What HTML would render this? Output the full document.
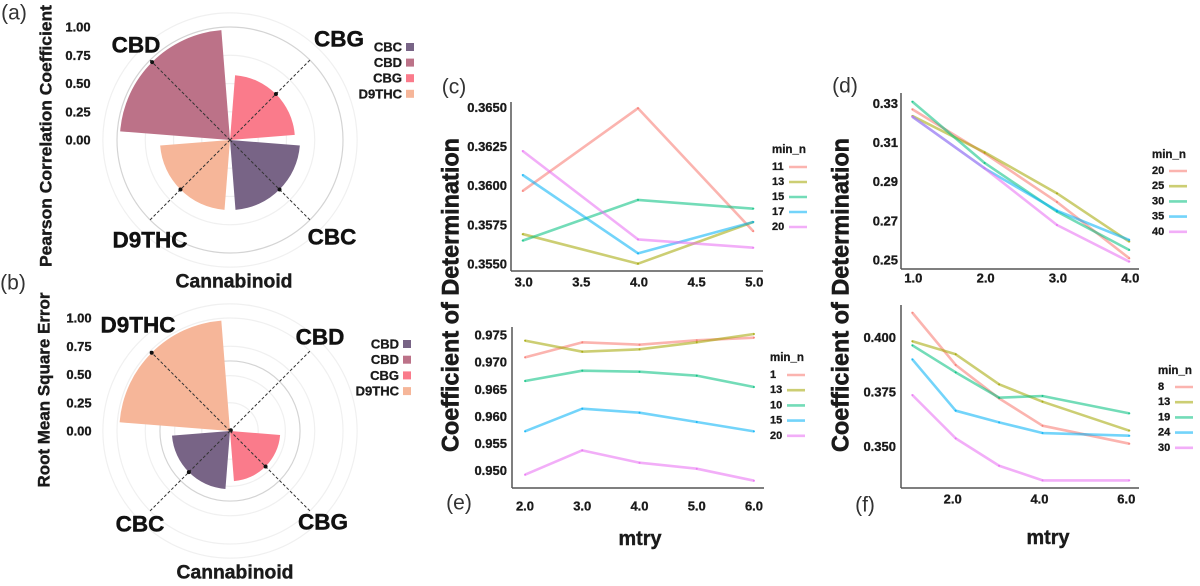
<!DOCTYPE html>
<html lang="en">
<head>
<meta charset="utf-8">
<title>Cannabinoid model performance panels</title>
<style>
html,body{margin:0;padding:0;background:#fff;width:1200px;height:586px;overflow:hidden}
svg{display:block;filter:blur(0.35px)}
text{font-family:"Liberation Sans",Arial,sans-serif;fill:#1a1a1a}
.b{font-weight:700;stroke:#1a1a1a;stroke-width:0.3px}
.m{text-anchor:middle;dominant-baseline:central}
.p{font-size:21px;fill:#333;text-anchor:middle;dominant-baseline:central}
.cat{font-weight:700;font-size:22.5px;fill:#111;stroke:#111;stroke-width:0.45px;text-anchor:middle;dominant-baseline:central}
.axt{font-weight:700;fill:#1a1a1a;stroke:#1a1a1a;stroke-width:0.4px;text-anchor:middle;dominant-baseline:central}
</style>
</head>
<body>
<svg id="figure" xmlns="http://www.w3.org/2000/svg" width="1200" height="586" viewBox="0 0 1200 586">
  <rect width="1200" height="586" fill="#fff"/>
  <g id="layer-charts"></g>

  <text class="p" x="14" y="13">(a)</text>
  <text class="p" x="13" y="283">(b)</text>
  <text class="p" x="454" y="87">(c)</text>
  <text class="p" x="845" y="86">(d)</text>
  <text class="p" x="459" y="503">(e)</text>
  <text class="p" x="865" y="505">(f)</text>

  <text class="axt" font-size="17" textLength="262" lengthAdjust="spacingAndGlyphs" transform="translate(46 136) rotate(-90)">Pearson Correlation Coefficient</text>
  <text class="axt" font-size="17" textLength="195" lengthAdjust="spacingAndGlyphs" transform="translate(44 390) rotate(-90)">Root Mean Square Error</text>
  <text class="axt" font-size="19" x="234" y="282" textLength="117" lengthAdjust="spacingAndGlyphs">Cannabinoid</text>
  <text class="axt" font-size="19" x="235" y="573" textLength="117" lengthAdjust="spacingAndGlyphs">Cannabinoid</text>

  <text class="cat" x="136" y="45">CBD</text>
  <text class="cat" x="339" y="39">CBG</text>
  <text class="cat" x="332" y="237">CBC</text>
  <text class="cat" x="150" y="240">D9THC</text>

  <text class="cat" x="138" y="325">D9THC</text>
  <text class="cat" x="320" y="337">CBD</text>
  <text class="cat" x="323" y="522">CBG</text>
  <text class="cat" x="140" y="524">CBC</text>

  <text class="axt" font-size="24" textLength="314" lengthAdjust="spacingAndGlyphs" style="stroke-width:0.6px" transform="translate(451 295) rotate(-90)">Coefficient of Determination</text>
  <text class="axt" font-size="24" textLength="314" lengthAdjust="spacingAndGlyphs" style="stroke-width:0.6px" transform="translate(841 295) rotate(-90)">Coefficient of Determination</text>
  <text class="axt" font-size="20" x="640" y="539" textLength="43" lengthAdjust="spacingAndGlyphs">mtry</text>
  <text class="axt" font-size="20" x="1048" y="538" textLength="43" lengthAdjust="spacingAndGlyphs">mtry</text>
</svg>

<script>
// ---------- Polar chart data ----------
var radialTicks = [0, 0.25, 0.5, 0.75, 1];
var radialTickLabels = ['0.00', '0.25', '0.50', '0.75', '1.00'];

var aCategories = ['CBG', 'CBC', 'D9THC', 'CBD'];
var aValues = [0.575, 0.62, 0.62, 0.975];
var aRings = [0.25, 0.5, 0.75, 1, 1.125];
var aLegendLabels = ['CBC', 'CBD', 'CBG', 'D9THC'];

var bCategories = ['CBD', 'CBG', 'CBC', 'D9THC'];
var bValues = [0.01, 0.445, 0.515, 0.98];
var bRings = [0.25, 0.49, 0.62, 0.75, 1, 1.125];
var bLegendLabels = ['CBD', 'CBD', 'CBG', 'D9THC'];

// ---------- Line chart data: panel (c) ----------
var cMtry = [3, 4, 5];
var cXTicks = [3, 3.5, 4, 4.5, 5];
var cXTickLabels = ['3.0', '3.5', '4.0', '4.5', '5.0'];
var cYTicks = [0.355, 0.3575, 0.36, 0.3625, 0.365];
var cYTickLabels = ['0.3550', '0.3575', '0.3600', '0.3625', '0.3650'];
var cLegend = ['11', '13', '15', '17', '20'];
var cS1 = [0.35966, 0.36494, 0.35709];
var cS2 = [0.35691, 0.35502, 0.35768];
var cS3 = [0.35649, 0.35909, 0.35853];
var cS4 = [0.36068, 0.35568, 0.35768];
var cS5 = [0.36221, 0.35657, 0.35604];

// ---------- Line chart data: panel (d) ----------
var dMtry = [1, 2, 3, 4];
var dXTicks = [1, 2, 3, 4];
var dXTickLabels = ['1.0', '2.0', '3.0', '4.0'];
var dYTicks = [0.25, 0.27, 0.29, 0.31, 0.33];
var dYTickLabels = ['0.25', '0.27', '0.29', '0.31', '0.33'];
var dLegend = ['20', '25', '30', '35', '40'];
var dS1 = [0.32694, 0.30447, 0.27962, 0.25085];
var dS2 = [0.32353, 0.30498, 0.28404, 0.25936];
var dS3 = [0.33085, 0.29953, 0.27468, 0.25511];
var dS4 = [0.32319, 0.29681, 0.27519, 0.26021];
var dS5 = [0.32319, 0.29681, 0.26787, 0.24915];

// ---------- Line chart data: panel (e) ----------
var eMtry = [2, 3, 4, 5, 6];
var eXTicks = [2, 3, 4, 5, 6];
var eXTickLabels = ['2.0', '3.0', '4.0', '5.0', '6.0'];
var eYTicks = [0.95, 0.955, 0.96, 0.965, 0.97, 0.975];
var eYTickLabels = ['0.950', '0.955', '0.960', '0.965', '0.970', '0.975'];
var eLegend = ['1', '13', '10', '15', '20'];
var eS1 = [0.97088, 0.97365, 0.97322, 0.97402, 0.97451];
var eS2 = [0.97396, 0.97193, 0.97236, 0.97365, 0.97518];
var eS3 = [0.96652, 0.96843, 0.96824, 0.96751, 0.96542];
var eS4 = [0.95725, 0.96143, 0.96069, 0.95897, 0.95725];
var eS5 = [0.94926, 0.95375, 0.95147, 0.95037, 0.94816];

// ---------- Line chart data: panel (f) ----------
var fMtry = [1, 2, 3, 4, 6];
var fXTicks = [2, 4, 6];
var fXTickLabels = ['2.0', '4.0', '6.0'];
var fYTicks = [0.35, 0.375, 0.4];
var fYTickLabels = ['0.350', '0.375', '0.400'];
var fLegend = ['8', '13', '19', '24', '30'];
var fS1 = [0.41128, 0.38735, 0.37210, 0.35960, 0.35137];
var fS2 = [0.39817, 0.39223, 0.37851, 0.37058, 0.35732];
var fS3 = [0.39634, 0.38399, 0.37241, 0.37317, 0.36524];
var fS4 = [0.38994, 0.36646, 0.36113, 0.35625, 0.35503];
var fS5 = [0.37363, 0.35381, 0.34131, 0.33460, 0.33460];

// ---------- Styling ----------
var categoryColors = {CBC: '#786486', CBD: '#BC7288', CBG: '#FA7B8B', D9THC: '#F6B699'};
var legendColorsA = ['#786486', '#BC7288', '#FA7B8B', '#F6B699'];
var seriesColors = ['#F8766D', '#A3A500', '#00BF7D', '#00B0F6', '#E76BF3'];

var NS = 'http://www.w3.org/2000/svg';
var root = document.getElementById('layer-charts');

function make(tag, parent, attrs) {
  var el = document.createElementNS(NS, tag);
  for (var k in attrs) el.setAttribute(k, attrs[k]);
  parent.appendChild(el);
  return el;
}
function linear(d0, d1, r0, r1) {
  return function (v) { return r0 + (v - d0) * (r1 - r0) / (d1 - d0); };
}

function drawPolar(id, o) {
  var g = make('g', root, {});
  
  
  var rScale = linear(0, 1, 0, o.maxR);
  var point = function (deg, r) {
    var t = deg * Math.PI / 180;
    return [o.cx + r * Math.sin(t), o.cy - r * Math.cos(t)];
  };
  o.rings.forEach(function (v) {
    var ring = make('circle', g, {cx: o.cx, cy: o.cy, r: rScale(v), fill: 'none',
      stroke: v === o.darkRing ? '#d4d4d4' : '#f0f0f0', 'stroke-width': 1.2});
    
    
  });
  o.categories.forEach(function (cat, i) {
    var angle = 45 + 90 * i;
    var r = rScale(o.values[i]);
    var p0 = point(angle - 40.5, r);
    var p1 = point(angle + 40.5, r);
    var wedge = make('path', g, {
      d: 'M' + o.cx + ' ' + o.cy + 'L' + p0[0] + ' ' + p0[1] + 'A' + r + ' ' + r + ' 0 0 1 ' + p1[0] + ' ' + p1[1] + 'Z',
      fill: o.colors[cat]
    });
    
    
  });
  o.categories.forEach(function (cat, i) {
    var angle = 45 + 90 * i;
    var end = point(angle, o.maxR * 1.01);
    var spoke = make('line', g, {x1: o.cx, y1: o.cy, x2: end[0], y2: end[1], stroke: '#333',
      'stroke-width': 1, 'stroke-dasharray': '3 2'});
    
    
    var m = point(angle, rScale(o.values[i]));
    var dot = make('circle', g, {cx: m[0], cy: m[1], r: 2, fill: '#111'});
    
    
  });
  radialTicks.forEach(function (v, i) {
    var t = make('text', g, {x: o.tickX, y: o.cy - rScale(v), 'class': 'b m', 'font-size': 13});
    t.textContent = radialTickLabels[i];
    
    
  });
  o.legend.forEach(function (label, i) {
    var y = o.legendY + i * o.legendStep;
    var t = make('text', g, {x: o.legendX, y: y, 'class': 'b', 'font-size': 13, 'text-anchor': 'end', 'dominant-baseline': 'central'});
    t.textContent = label;
    
    
    var s = make('rect', g, {x: o.legendX + 4, y: y - 4, width: 8, height: 8, fill: legendColorsA[i]});
    
    
  });
}

function drawLines(id, o) {
  var g = make('g', root, {});
  
  
  var x = linear(o.xDomain[0], o.xDomain[1], o.xRange[0], o.xRange[1]);
  var y = linear(o.yDomain[0], o.yDomain[1], o.yRange[0], o.yRange[1]);

  o.series.forEach(function (values, s) {
    var pts = values.map(function (v, i) { return x(o.xs[i]) + ',' + y(v); }).join(' ');
    var line = make('polyline', g, {points: pts, fill: 'none', stroke: seriesColors[s],
      'stroke-opacity': 0.55, 'stroke-width': 2.6, 'stroke-linejoin': 'round'});
    
    
    values.forEach(function (v, i) {
      var c = make('circle', g, {cx: x(o.xs[i]), cy: y(v), r: 1, fill: seriesColors[s], 'fill-opacity': 0.8});
      
      
    });
  });

  var yAxis = make('line', g, {x1: o.axisX, y1: o.axisTop, x2: o.axisX, y2: o.axisBottom, stroke: '#555', 'stroke-width': 1.5});
  
  
  var xAxis = make('line', g, {x1: o.axisX, y1: o.axisBottom, x2: o.axisRight, y2: o.axisBottom, stroke: '#555', 'stroke-width': 1.5});
  
  

  o.yTicks.forEach(function (v, i) {
    var t = make('text', g, {x: o.yLabelX, y: y(v), 'class': 'b', 'font-size': 13, 'text-anchor': 'end', 'dominant-baseline': 'central'});
    t.textContent = o.yLabels[i];
    
    
  });
  o.xTicks.forEach(function (v, i) {
    var t = make('text', g, {x: x(v) + o.xLabelDx, y: o.xLabelY, 'class': 'b m', 'font-size': 13});
    t.textContent = o.xLabels[i];
    
    
  });

  var title = make('text', g, {x: o.legendX, y: o.legendTitleY, 'class': 'b', 'font-size': 11.5, 'dominant-baseline': 'central'});
  title.textContent = 'min_n';
  
  
  o.legend.forEach(function (label, i) {
    var ly = o.legendY + i * o.legendStep;
    var t = make('text', g, {x: o.legendX, y: ly, 'class': 'b', 'font-size': 11, 'dominant-baseline': 'central'});
    t.textContent = label;
    
    
    var k = make('line', g, {x1: o.legendX + 17, y1: ly, x2: o.legendX + 35, y2: ly, stroke: seriesColors[i], 'stroke-opacity': 0.55, 'stroke-width': 2.6});
    
    
  });
}

drawPolar('a', {cx: 230, cy: 140, maxR: 113, tickX: 78, categories: aCategories, values: aValues,
  rings: aRings, darkRing: 1, colors: categoryColors, legend: aLegendLabels,
  legendX: 402, legendY: 47, legendStep: 15.6});
drawPolar('b', {cx: 230, cy: 431, maxR: 113, tickX: 79, categories: bCategories, values: bValues,
  rings: bRings, darkRing: 0.62, colors: categoryColors, legend: bLegendLabels,
  legendX: 399, legendY: 344, legendStep: 15.7});

drawLines('c', {xs: cMtry, series: [cS1, cS2, cS3, cS4, cS5], legend: cLegend,
  xTicks: cXTicks, xLabels: cXTickLabels, yTicks: cYTicks, yLabels: cYTickLabels,
  xDomain: [3, 5], xRange: [522.7, 753.3], yDomain: [0.355, 0.365], yRange: [264, 107.3],
  axisX: 511, axisTop: 102, axisBottom: 271, axisRight: 763, yLabelX: 507, xLabelY: 282, xLabelDx: 1,
  legendX: 772, legendTitleY: 150, legendY: 167, legendStep: 15});
drawLines('e', {xs: eMtry, series: [eS1, eS2, eS3, eS4, eS5], legend: eLegend,
  xTicks: eXTicks, xLabels: eXTickLabels, yTicks: eYTicks, yLabels: eYTickLabels,
  xDomain: [2, 6], xRange: [525, 754], yDomain: [0.95, 0.975], yRange: [470.7, 335],
  axisX: 512, axisTop: 327, axisBottom: 488, axisRight: 764, yLabelX: 507, xLabelY: 506, xLabelDx: 0,
  legendX: 770, legendTitleY: 358, legendY: 375, legendStep: 15.2});
drawLines('d', {xs: dMtry, series: [dS1, dS2, dS3, dS4, dS5], legend: dLegend,
  xTicks: dXTicks, xLabels: dXTickLabels, yTicks: dYTicks, yLabels: dYTickLabels,
  xDomain: [1, 4], xRange: [912.3, 1129.3], yDomain: [0.25, 0.33], yRange: [260, 103.3],
  axisX: 901, axisTop: 93, axisBottom: 269, axisRight: 1139, yLabelX: 898, xLabelY: 278, xLabelDx: 1,
  legendX: 1152, legendTitleY: 155, legendY: 171, legendStep: 15.2});
drawLines('f', {xs: fMtry, series: [fS1, fS2, fS3, fS4, fS5], legend: fLegend,
  xTicks: fXTicks, xLabels: fXTickLabels, yTicks: fYTicks, yLabels: fYTickLabels,
  xDomain: [1, 6], xRange: [912.3, 1129.3], yDomain: [0.35, 0.4], yRange: [446.7, 337.3],
  axisX: 901, axisTop: 305, axisBottom: 488, axisRight: 1139, yLabelX: 896, xLabelY: 499, xLabelDx: -3,
  legendX: 1158, legendTitleY: 371, legendY: 387, legendStep: 15.2});
</script>
</body>
</html>
